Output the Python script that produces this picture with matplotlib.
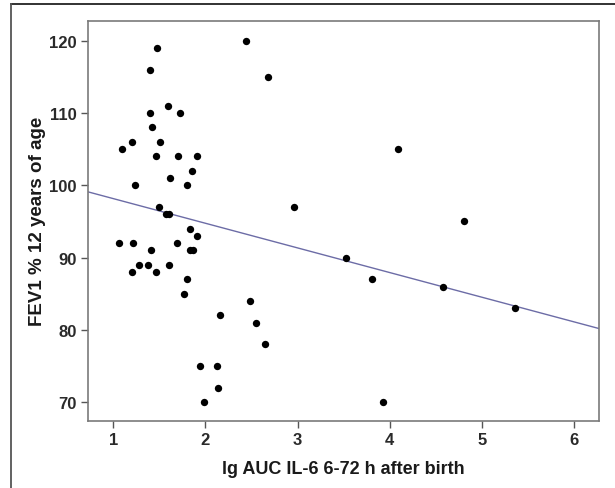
# FEV1 vs lg AUC IL-6 scatter with fit line

import matplotlib.pyplot as plt
from matplotlib.lines import Line2D
import numpy as np

plt.rcParams['font.family'] = ['Liberation Sans', 'DejaVu Sans']

lg_auc = [1.47, 2.44, 2.68, 1.40, 1.59, 1.40, 1.72, 1.42, 1.20, 1.09,
          1.51, 1.46, 1.70, 1.91, 1.85, 1.61, 1.24, 1.80, 1.50, 1.57,
          1.60, 1.83, 1.91, 1.06, 1.21, 1.69, 1.41, 1.83, 1.86, 1.28,
          1.38, 1.60, 1.20, 1.46, 1.80, 1.77, 2.48, 2.16, 2.55, 2.65,
          1.94, 2.13, 2.14, 1.98, 4.09, 2.96, 3.53, 3.81, 3.93, 4.80,
          4.58, 5.36]
fev1 = [119, 120, 115, 116, 111, 110, 110, 108, 106, 105,
        106, 104, 104, 104, 102, 101, 100, 100, 97, 96,
        96, 94, 93, 92, 92, 92, 91, 91, 91, 89,
        89, 89, 88, 88, 87, 85, 84, 82, 81, 78,
        75, 75, 72, 70, 105, 97, 90, 87, 70, 95,
        86, 83]

fit_intercept = 101.57
fit_slope = -3.41

fig = plt.figure(figsize=(6.15, 4.89), dpi=100)
ax = fig.add_axes([88/615, 1-422/489, (599-88)/615, (422-21.5)/489])

ax.scatter(lg_auc, fev1, s=28, color='black', zorder=3, linewidths=0)

xl = np.array([0.725, 6.27])
ax.plot(xl, fit_intercept + fit_slope*xl, color='#6c6ca6', lw=1.0)

ax.set_xlim(0.725, 6.27)
ax.set_ylim(67.4, 122.8)
ax.set_xticks([1, 2, 3, 4, 5, 6])
ax.set_yticks([70, 80, 90, 100, 110, 120])

for s in ax.spines.values():
    s.set_color('#7a7a7a')
    s.set_linewidth(1.2)
ax.tick_params(direction='out', length=5, width=1, color='#555555',
               labelsize=12, labelcolor='#2a2a2a', pad=3)
for lab in ax.get_xticklabels() + ax.get_yticklabels():
    lab.set_fontweight('bold')

ax.set_xlabel('lg AUC IL-6 6-72 h after birth', fontsize=13, fontweight='bold',
              color='#1a1a1a', labelpad=9)
ax.set_ylabel('FEV1 % 12 years of age', fontsize=13.5, fontweight='bold',
              color='#1a1a1a', labelpad=2)

# outer frame (top and left edges only)
fig.add_artist(Line2D([11/615, 1], [1-5/489, 1-5/489], color='#222222', lw=1.3,
                      transform=fig.transFigure))
fig.add_artist(Line2D([11/615, 11/615], [0, 1-5/489], color='#555555', lw=1.3,
                      transform=fig.transFigure))

plt.savefig('out.png', dpi=100)
